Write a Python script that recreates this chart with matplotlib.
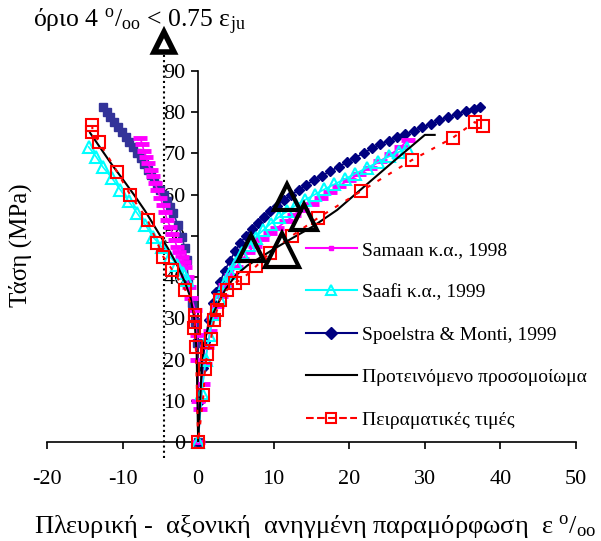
import matplotlib
matplotlib.use("Agg")
import matplotlib.pyplot as plt
from matplotlib.lines import Line2D

plt.rcParams['font.family'] = ['Liberation Serif', 'DejaVu Serif']
plt.rcParams['mathtext.fontset'] = 'custom'
plt.rcParams['mathtext.rm'] = 'Liberation Serif'
plt.rcParams['mathtext.it'] = 'Liberation Serif:italic'
plt.rcParams['axes.unicode_minus'] = False

# Samaan et al. 1998 (lateral branch then axial branch)
samaan_x = [-7.7, -7.4, -7.2, -6.9, -6.7, -6.3, -6.0, -5.7, -5.4, -5.0, -4.7, -4.4, -4.1,
            -3.7, -3.4, -3.1, -2.8, -2.5, -2.2, -1.9, -1.7, -1.5, -1.2, -0.9, -0.4, -0.2,
            -0.1, -0.05, 0.0,
            0.3, 0.6, 0.9, 1.2, 1.6, 2.0, 2.5, 3.0, 3.6, 4.3, 5.0, 5.8, 6.6, 7.5, 8.5, 9.5,
            10.5, 11.6, 12.7, 13.8, 15.0, 16.2, 17.4, 18.7, 20.0, 21.3, 22.7, 24.1, 25.5,
            26.8, 27.8]
samaan_y = [73.8, 72.3, 70.7, 69.2, 67.7, 66.1, 64.5, 62.8, 61.2, 59.3, 57.5, 55.7, 53.9,
            52.2, 50.5, 48.9, 47.3, 46.1, 45.0, 43.7, 42.5, 40.0, 37.6, 35.0, 32.0, 26.0,
            20.0, 10.0, 0.0,
            8.0, 14.0, 19.0, 23.0, 27.0, 30.0, 33.0, 35.5, 38.0, 40.5, 42.5, 44.3, 46.0,
            47.6, 49.2, 50.6, 52.0, 53.5, 55.0, 56.4, 57.8, 59.2, 60.6, 62.2, 63.6, 65.0,
            66.5, 68.2, 69.8, 71.6, 73.3]

# Saafi et al. 1999
saafi_x = [-14.5, -13.5, -12.6, -11.4, -10.3, -9.2, -8.1, -7.0, -6.0, -4.8, -3.7, -2.8,
           -2.0, -1.5, None,
           0.0, 0.5, 1.0, 1.5, 2.1, 2.8, 3.5, 4.2, 5.0, 5.8, 6.7, 7.6, 8.6, 9.6, 10.7,
           11.8, 13.0, 14.2, 15.4, 16.7, 18.0, 19.4, 20.8, 22.3, 23.8, 25.3, 26.6, 27.6]
saafi_y = [71.6, 69.2, 66.7, 64.0, 61.2, 58.4, 55.6, 52.7, 49.8, 47.3, 44.9, 43.0,
           41.0, 39.3, None,
           0.0, 12.0, 20.0, 26.0, 31.0, 35.0, 38.5, 41.0, 43.5, 45.8, 47.8, 49.6, 51.4,
           53.0, 54.6, 56.0, 57.5, 58.8, 60.0, 61.3, 62.5, 63.8, 65.1, 66.5, 67.9, 69.3,
           70.4, 71.4]

# Spoelstra & Monti 1999
spo_left_x = [-12.6, -12.1, -11.6, -11.1, -10.6, -10.1, -9.6, -9.1, -8.6, -8.1, -7.6,
              -7.2, -6.7, -6.2, -5.8, -5.4, -5.0, -4.5, -4.1, -3.7, -3.3, -2.7, -2.1,
              -1.8, -1.5, -1.3, -0.8, -0.4, -0.1, 0.0]
spo_left_y = [81.3, 80.0, 78.8, 77.6, 76.5, 75.2, 74.0, 72.8, 71.6, 70.2, 68.8, 67.4,
              66.0, 64.8, 63.6, 62.4, 61.2, 59.8, 58.4, 57.0, 55.6, 52.7, 49.8, 47.0,
              44.2, 38.8, 33.7, 29.0, 24.0, 0.0]
spo_right_x = [0.0, 0.3, 0.6, 0.9, 1.4, 1.9, 2.4, 2.9, 3.5, 4.2, 4.9, 5.6, 6.3, 7.1,
               7.9, 8.7, 9.5, 10.4, 11.3, 12.3, 13.3, 14.3, 15.3, 16.4, 17.5, 18.6,
               19.7, 20.8, 21.9, 23.0, 24.1, 25.2, 26.3, 27.4, 28.5, 29.6, 30.8, 31.9,
               33.1, 34.3, 35.5, 36.5, 37.3]
spo_right_y = [0.0, 10.0, 18.0, 24.3, 29.5, 33.7, 36.5, 38.8, 41.5, 44.0, 46.3, 48.3,
               50.0, 51.6, 53.1, 54.6, 56.0, 57.3, 58.6, 59.9, 61.2, 62.4, 63.5, 64.6,
               65.7, 66.8, 67.9, 69.0, 70.1, 71.2, 72.3, 73.1, 73.9, 74.7, 75.5, 76.3,
               77.1, 78.0, 78.8, 79.6, 80.4, 80.9, 81.3]

# proposed model
model_x = [-14.3, -13.0, -11.5, -10.0, -8.5, -7.0, -5.5, -4.0, -2.8, -1.8, -1.0, -0.5,
           -0.2, 0.0, 0.3, 0.5, 0.8, 1.2, 1.8, 2.6, 3.6, 5.0, 6.5, 8.0, 10.0, 12.5,
           15.2, 18.4, 22.0, 26.0, 30.0, 31.3]
model_y = [75.0, 71.5, 67.5, 63.8, 60.0, 56.0, 51.5, 47.0, 43.0, 39.0, 35.0, 30.0,
           22.0, 0.0, 11.0, 20.0, 24.0, 27.0, 30.5, 33.5, 37.0, 40.5, 42.8, 44.5, 46.8,
           49.5, 52.3, 56.3, 62.0, 68.3, 74.5, 74.5]

# experimental values
exp_x = [-14.0, -14.0, -13.1, -10.7, -9.0, -6.7, -5.4, -4.6, -3.4, -1.7, -0.4, -0.4,
         -0.5, -0.3, 0.0, 0.7, 0.9, 1.2, 1.7, 2.1, 2.5, 2.9, 3.8, 4.9, 6.0, 7.7, 9.5,
         12.4, 15.9, 21.6, 28.3, 33.7, 36.6, 37.7]
exp_y = [76.9, 75.3, 72.8, 65.5, 60.0, 53.9, 48.3, 44.9, 41.7, 36.9, 30.8, 29.1, 27.7,
         23.0, 0.0, 11.4, 17.7, 21.4, 25.0, 29.6, 32.0, 34.5, 36.9, 38.6, 39.8, 42.7,
         45.9, 50.0, 54.4, 60.9, 68.4, 73.8, 77.6, 76.7]

# 4 per mille limit points
lim_x = [7.0, 11.8, 14.0]
lim_y = [47.1, 59.5, 54.6]
lim_big_x = [11.1]
lim_big_y = [46.6]
limit_strain = -4.5

fig = plt.figure(figsize=(6.01, 5.41), dpi=100)
ax = fig.add_axes([47 / 601, 1 - 442 / 541, 529 / 601, 371 / 541])
ax.set_xlim(-20, 50)
ax.set_ylim(0, 90)

ax.plot(spo_left_x, spo_left_y, color='#333399', marker='s', ms=6, lw=1.2, clip_on=False, zorder=3)
ax.plot(spo_right_x, spo_right_y, color='#000080', marker='D', ms=5.5, lw=1.2, clip_on=False, zorder=3)
ax.plot(samaan_x, samaan_y, color='#ff00ff', marker='_', ms=10, mew=3.5, lw=1.2, clip_on=False, zorder=4)
ax.plot(saafi_x, saafi_y, color='#00ffff', marker='^', ms=8, mfc='none', mew=1.5, lw=1.2, clip_on=False, zorder=4)
ax.plot(model_x, model_y, color='black', lw=1.5, zorder=5)
ax.plot(exp_x, exp_y, color='#ff0000', marker='s', ms=9, mfc='none', mew=1.5,
        ls=(0, (2, 4)), lw=1.5, clip_on=False, zorder=6)
ax.plot(lim_x, lim_y, ls='none', marker='^', ms=19, mfc='none', mec='black', mew=3, zorder=7)
ax.plot(lim_big_x, lim_big_y, ls='none', marker='^', ms=24, mfc='none', mec='black', mew=3, zorder=7)

ax.plot([limit_strain, limit_strain], [-4, 96], color='black', ls=(0, (1, 1.5)), lw=1.5, clip_on=False)
ax.plot([limit_strain], [97], marker='^', ms=14, mfc='white', mec='black', mew=4, clip_on=False)

ax.spines['left'].set_position(('data', 0))
ax.spines['bottom'].set_position(('data', 0))
ax.spines['top'].set_visible(False)
ax.spines['right'].set_visible(False)
ax.spines['left'].set_linewidth(1.2)
ax.spines['bottom'].set_linewidth(1.2)
ax.set_xticks(range(-20, 51, 10))
ax.set_yticks(range(0, 91, 10))
ax.tick_params(axis='x', direction='out', length=5, width=1.2, pad=15, labelsize=16)
ax.tick_params(axis='y', direction='out', length=5, width=1.2, pad=4, labelsize=16)

handles = [
    Line2D([], [], color='#ff00ff', marker='s', ms=3, lw=1.5),
    Line2D([], [], color='#00ffff', marker='^', ms=7, mfc='none', mew=1.5, lw=1.5),
    Line2D([], [], color='#000080', marker='D', ms=6, lw=1.5),
    Line2D([], [], color='black', lw=1.5),
    Line2D([], [], color='#ff0000', marker='s', ms=7, mfc='none', mew=1.5, ls='--', lw=1.5),
]
labels = ['Samaan κ.α., 1998', 'Saafi κ.α., 1999', 'Spoelstra & Monti, 1999',
          'Προτεινόμενο προσομοίωμα', 'Πειραματικές τιμές']
fig.legend(handles, labels, loc='upper left', bbox_to_anchor=(306 / 601, 1 - 241 / 541),
           frameon=False, fontsize=14, borderpad=0, borderaxespad=0, labelspacing=1.28,
           handlelength=2.6, handletextpad=0.3)

fig.text(33 / 601, 1 - 22 / 541,
         'όριο 4 $^{\\mathrm{o}}$/$_{\\mathrm{oo}}$ < 0.75 ε$_{\\mathrm{ju}}$',
         fontsize=18.5, ha='left', va='center')
fig.text(20 / 601, 1 - 245 / 541, 'Τάση (MPa)', fontsize=18, rotation=90,
         ha='center', va='center')
fig.text(315 / 601, 1 - 527 / 541,
         'Πλευρική -  αξονική  ανηγμένη παραμόρφωση  ε $^{\\mathrm{o}}$/$_{\\mathrm{oo}}$',
         fontsize=19, ha='center', va='center')

fig.savefig('out.png', dpi=100)
